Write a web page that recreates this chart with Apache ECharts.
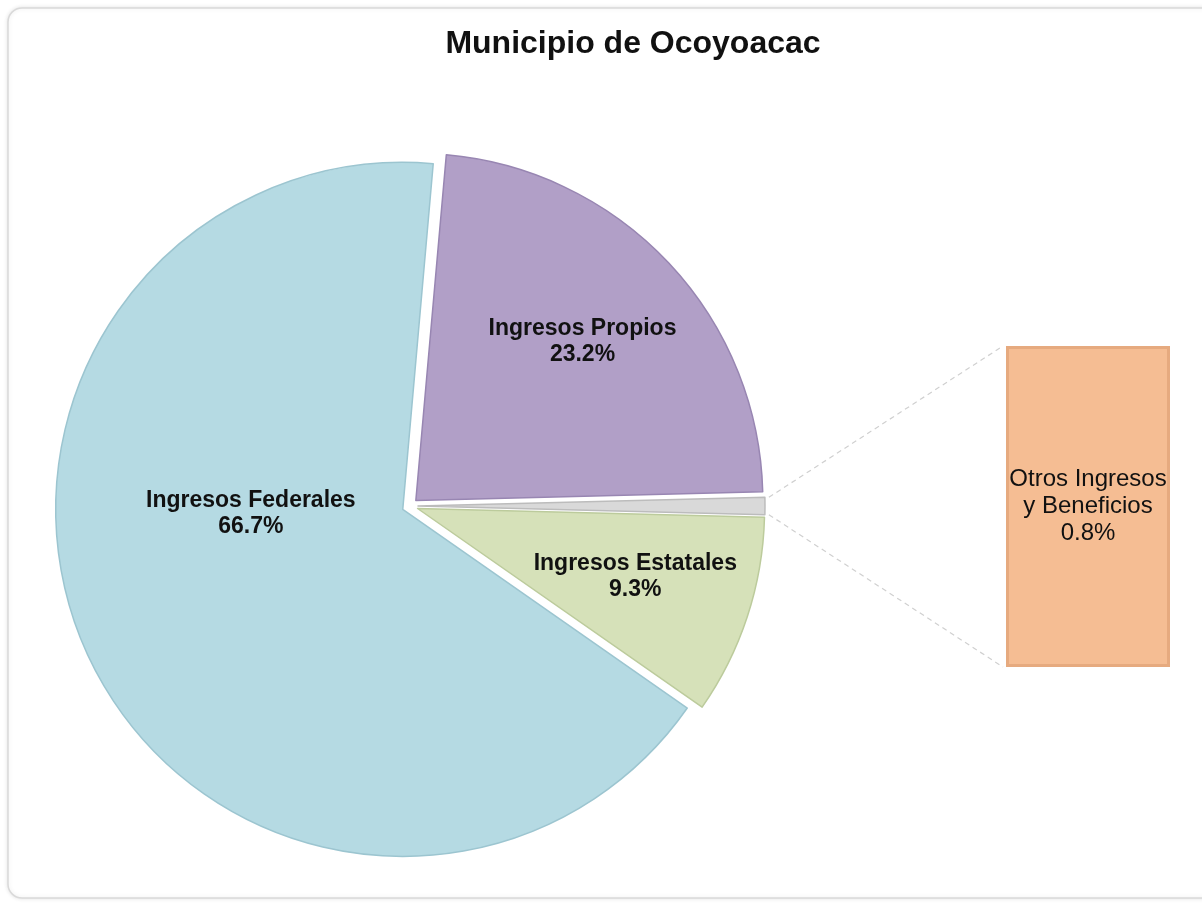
<!DOCTYPE html>
<html>
<head>
<meta charset="utf-8">
<script src="https://cdn.jsdelivr.net/npm/echarts@6/dist/echarts.min.js"></script>
<style>
html,body{margin:0;padding:0;background:#fff;}
#c{width:1202px;height:907px;}
</style>
</head>
<body>
<div id="c"></div>
<script>
// ---- data ----
var titleText = 'Municipio de Ocoyoacac';
var pieNames = ['Ingresos Propios', 'Otros', 'Ingresos Estatales', 'Ingresos Federales'];
var pieValues = [23.2, 0.8, 9.3, 66.7];
var pieColors = ['#b19fc7', '#d9d9d9', '#d6e1b9', '#b5dae3'];
var pieBorders = ['#9886b2', '#bcbcbc', '#bccb9c', '#9cc5d0'];
var barName = 'Otros Ingresos\ny Beneficios';
var barValue = 0.8;

var chart = echarts.init(document.getElementById('c'), null, {renderer: 'canvas'});

var CX = 410, CY = 506, R = 347, OFF = 8;
var FONT = "'Liberation Sans', Arial, sans-serif";
var total = pieValues.reduce(function (a, b) { return a + b; }, 0);
// start angle so that the "Otros" slice is centred on the right (pointing at the bar)
var startAngle = (pieValues[1] / 2 + pieValues[0]) / total * 360;

// label nudges from the default inside position
var labelShift = {
  'Ingresos Propios': [38, -38],
  'Ingresos Estatales': [50, 13],
  'Ingresos Federales': [8, -70]
};

var pieData = pieNames.map(function (n, i) {
  return {
    name: n,
    value: pieValues[i],
    selected: true,
    itemStyle: {color: pieColors[i], borderColor: pieBorders[i], borderWidth: 1.5},
    label: {show: n !== 'Otros'}
  };
});

var option = {
  backgroundColor: '#ffffff',
  animation: false,
  title: {
    text: titleText,
    left: 628,
    top: 23,
    textAlign: 'center',
    textStyle: {fontFamily: FONT, fontSize: 32, fontWeight: 'bold', color: '#111'}
  },
  graphic: [{
    type: 'rect', silent: true, z: -10,
    shape: {x: 8, y: 8, width: 1260, height: 890, r: 14},
    style: {fill: '#fff', stroke: '#d9d9d9', lineWidth: 1.5,
      shadowBlur: 4, shadowColor: 'rgba(0,0,0,0.10)'}
  }],
  grid: {left: 1006, top: 346, width: 164, height: 321},
  xAxis: {type: 'category', data: [barName], show: false},
  yAxis: {type: 'value', min: 0, max: barValue, show: false},
  series: [{
    type: 'pie',
    center: [CX, CY],
    radius: [0, R],
    startAngle: startAngle,
    clockwise: true,
    selectedMode: 'multiple',
    selectedOffset: OFF,
    select: {itemStyle: {}, label: {}},
    emphasis: {disabled: true},
    avoidLabelOverlap: false,
    data: pieData,
    label: {
      position: 'inside',
      formatter: function (p) { return p.name + '\n' + p.value.toFixed(1) + '%'; },
      fontFamily: FONT,
      fontSize: 23,
      fontWeight: 'bold',
      lineHeight: 26,
      color: '#111',
      align: 'center'
    },
    labelLine: {show: false},
    labelLayout: function (p) {
      var s = labelShift[pieNames[p.dataIndex]] || [0, 0];
      return {dx: s[0], dy: s[1]};
    }
  }, {
    type: 'bar',
    data: [barValue],
    barWidth: '100%',
    itemStyle: {color: '#f5bd93', borderColor: '#e6aa7f', borderWidth: 3},
    emphasis: {disabled: true},
    label: {
      show: true,
      position: 'inside',
      formatter: function () { return barName + '\n' + barValue.toFixed(1) + '%'; },
      fontFamily: FONT,
      fontSize: 24,
      lineHeight: 27,
      color: '#111'
    }
  }]
};
chart.setOption(option);

// connector lines from the small slice to the bar
(function () {
  var a0 = startAngle - pieValues[0] / total * 360;
  var a1 = a0 - pieValues[1] / total * 360;
  var mid = (a0 + a1) / 2 * Math.PI / 180;
  var ox = CX + OFF * Math.cos(mid), oy = CY - OFF * Math.sin(mid);
  function pt(a) { a = a * Math.PI / 180; return [ox + R * Math.cos(a), oy - R * Math.sin(a)]; }
  var p0 = pt(a0), p1 = pt(a1);
  var top = chart.convertToPixel({gridIndex: 0}, [0, barValue]);
  var bot = chart.convertToPixel({gridIndex: 0}, [0, 0]);
  var left = 1006 - 3;
  var ls = {stroke: '#d0d0d0', lineWidth: 1.2, lineDash: [5, 4]};
  chart.setOption({graphic: [
    option.graphic[0],
    {type: 'line', silent: true, z: 5, shape: {x1: p0[0] + 4, y1: p0[1], x2: left, y2: top[1]}, style: ls},
    {type: 'line', silent: true, z: 5, shape: {x1: p1[0] + 4, y1: p1[1], x2: left, y2: bot[1]}, style: ls}
  ]});
})();
</script>
</body>
</html>
